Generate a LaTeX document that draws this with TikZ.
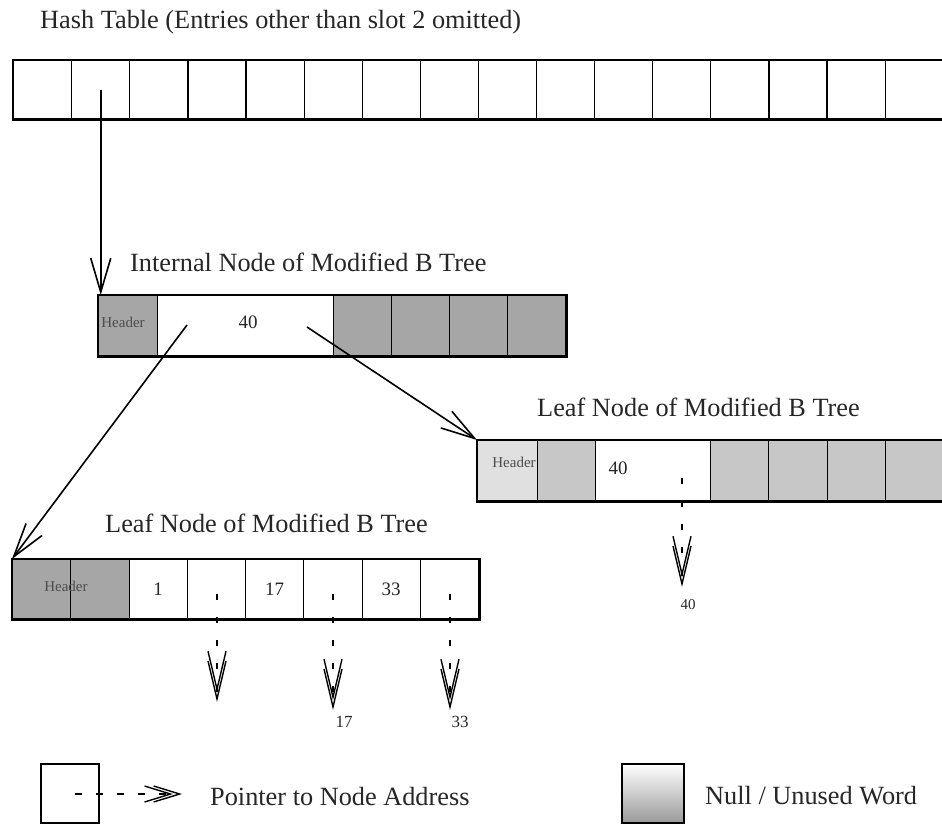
\documentclass[tikz,border=0pt]{standalone}
\usepackage{fontspec}
\setmainfont{Liberation Serif}
\usetikzlibrary{arrows.meta}
\begin{document}
\begin{tikzpicture}[x=1pt,y=-1pt,
  cellbase/.style={draw=black, line width=1.2pt, inner sep=0pt, anchor=north west, minimum height=60pt},
  wcell/.style={cellbase, fill=white},
  gcell/.style={cellbase, fill=black!35},
  lgcell/.style={cellbase, fill=black!22},
  hdcell/.style={cellbase, fill=black!12},
  outer/.style={draw=black, line width=2.6pt},
  lbl/.style={font=\fontsize{26.3}{29}\selectfont, text=black!85, inner sep=0pt},
  num/.style={font=\fontsize{19}{22}\selectfont, text=black!85, inner sep=0pt},
  hdr/.style={font=\fontsize{15}{18}\selectfont, text=black!70, inner sep=0pt},
  arr/.style={line width=1.6pt, -{Straight Barb[length=34pt,width=20pt,line width=1.6pt]}},
  ptr/.style={line width=1.8pt, dash pattern=on 6pt off 17pt,
     -{Straight Barb[length=38pt,width=18pt,line width=1.4pt,sep=-32pt]Straight Barb[length=38pt,width=18pt,line width=1.4pt]}},
  lptr/.style={line width=1.8pt, dash pattern=on 7pt off 14pt,
     -{Straight Barb[length=26pt,width=16pt,line width=1.4pt,sep=-20pt]Straight Barb[length=26pt,width=16pt,line width=1.4pt]}}
]
\useasboundingbox (0,0) rectangle (942,823);

% ---------- Hash table ----------
\node[lbl, anchor=west] (htitle) at (40,22) {Hash Table (Entries other than slot 2 omitted)};
\foreach \i in {1,...,16} {
  \node[wcell, minimum width=58.1pt, minimum height=58pt] (h\i) at ({13+58.1*(\i-1)},60) {};
}
\draw[outer] (h1.north west) rectangle (h16.south east);

% ---------- Internal node ----------
\node[lbl, anchor=west] (ititle) at (130,262) {Internal Node of Modified B Tree};
\node[gcell, minimum width=59pt] (i1) at (98,295) {};
\node[hdr] (ihdr) at (123,322) {Header};
\node[wcell, minimum width=176pt] (i2) at (157,295) {};
\node[num] (i40) at (248,322) {40};
\node[gcell, minimum width=57.5pt] (i3) at (333,295) {};
\node[gcell, minimum width=58pt] (i4) at (390.5,295) {};
\node[gcell, minimum width=58pt] (i5) at (448.5,295) {};
\node[gcell, minimum width=58.5pt] (i6) at (506.5,295) {};
\draw[outer] (i1.north west) rectangle (i6.south east);
\coordinate (ip1) at (187,325);
\coordinate (ip2) at (307,327);

% ---------- Right leaf node ----------
\node[lbl, anchor=west] (rtitle) at (537,407) {Leaf Node of Modified B Tree};
\node[hdcell, minimum width=60pt] (r1) at (477,440) {};
\node[lgcell, minimum width=58pt] (r2) at (537,440) {};
\node[hdr] (rhdr) at (514,462) {Header};
\node[wcell, minimum width=115pt] (r3) at (595,440) {};
\node[num] (r40) at (618,468) {40};
\coordinate (rp) at (682,478);
\coordinate (rpe) at (682,587);
\node[lgcell, minimum width=58pt] (r4) at (710,440) {};
\node[lgcell, minimum width=59pt] (r5) at (768,440) {};
\node[lgcell, minimum width=58pt] (r6) at (827,440) {};
\node[lgcell, minimum width=58pt] (r7) at (885,440) {};
\draw[outer] (r1.north west) rectangle (r7.south east);

% ---------- Left leaf node ----------
\node[lbl, anchor=west] (ltitle) at (105,523) {Leaf Node of Modified B Tree};
\foreach \i in {1,...,8} {
  \node[wcell, minimum width=58.25pt, minimum height=59pt] (l\i) at ({12+58.25*(\i-1)},559) {};
}
\node[gcell, minimum width=58.25pt, minimum height=59pt] (l1g) at (12,559) {};
\node[gcell, minimum width=58.25pt, minimum height=59pt] (l2g) at (70.25,559) {};
\node[hdr] (lhdr) at (66,586) {Header};
\node[num] (l1t) at (l3.center) {1};
\node[num] (l17) at (l5.center) {17};
\node[num] (l33) at (l7.center) {33};
\draw[outer] (l1.north west) rectangle (l8.south east);

% ---------- Connectors ----------
\draw[arr] (h2.center) -- (h2.center |- i1.north);
\draw[arr] (ip1) -- (l1.north west);
\draw[arr] (ip2) -- (r1.north west);

\coordinate (la) at (217,594);  \coordinate (lae) at (217,702);
\coordinate (lb) at (333,594);  \coordinate (lbe) at (333,710);
\coordinate (lc) at (450,594);  \coordinate (lce) at (450,710);
\draw[ptr] (la) -- (lae);
\draw[ptr] (lb) -- (lbe);
\draw[ptr] (lc) -- (lce);
\node[num, font=\fontsize{17}{20}\selectfont] (t17) at (344,722) {17};
\node[num, font=\fontsize{17}{20}\selectfont] (t33) at (460,722) {33};
\draw[ptr] (rp) -- (rpe);
\node[num, font=\fontsize{15}{18}\selectfont] (t40) at (688,605) {40};

% ---------- Legend ----------
\node[wcell, minimum width=58pt, minimum height=59pt, line width=2pt] (lg1) at (40,763) {};
\coordinate (lg1p) at (75,794);
\coordinate (lg1e) at (182,794);
\draw[lptr] (lg1p) -- (lg1e);
\node[lbl, anchor=west] (lg1t) at (210,796) {Pointer to Node Address};
\node[cellbase, top color=white, bottom color=black!40, minimum width=62pt, minimum height=59pt, line width=2pt] (lg2) at (621,763) {};
\node[lbl, anchor=west] (lg2t) at (705,796) {Null / Unused Word};
\end{tikzpicture}
\end{document}
